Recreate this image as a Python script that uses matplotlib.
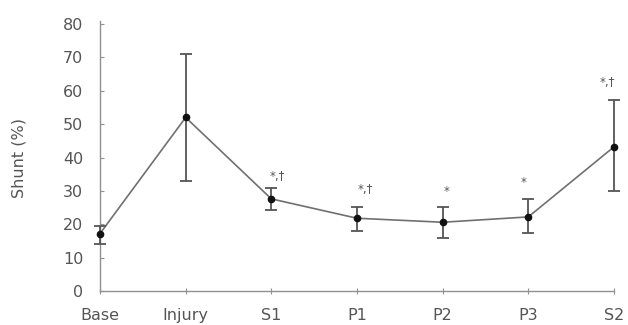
import matplotlib.pyplot as plt
import numpy as np

# Datos
etapas = ['Base', 'Injury', 'S1', 'P1', 'P2', 'P3', 'S2']
shunt = [17.2, 52.0, 27.6, 21.8, 20.6, 22.2, 43.2]
err_sup = [2.4, 19.0, 3.2, 3.4, 4.5, 5.3, 14.0]
err_inf = [3.0, 19.0, 3.3, 3.8, 4.8, 4.9, 13.2]
marcas = ['', '', '*,\u2020', '*,\u2020', '*', '*', '*,\u2020']
marcas_y = [0, 0, 32.5, 28.5, 28.0, 30.5, 60.5]
marcas_dx = [0, 0, 0.07, 0.1, 0.05, -0.05, -0.08]

plt.rcParams['font.family'] = ['DejaVu Sans']
texto = '#555555'

fig = plt.figure(figsize=(6.28, 3.25), dpi=100)
ax = fig.add_axes([100 / 628, 1 - 291 / 325, 514 / 628, 267 / 325])

x = np.arange(len(etapas))
ax.plot(x, shunt, color='#707070', lw=1.2, zorder=2)
ax.errorbar(x, shunt, yerr=[err_inf, err_sup], fmt='o', color='#111111',
            ms=4.5, ecolor='#555555', elinewidth=1.3, capsize=4, capthick=1.3,
            zorder=3)

for xi, m, my, dx in zip(x, marcas, marcas_y, marcas_dx):
    if m:
        ax.text(xi + dx, my, m, ha='center', va='bottom', fontsize=8.5,
                color=texto)

ax.set_xlim(0, 6)
ax.set_ylim(0, 80)
ax.set_yticks(range(0, 81, 10))
ax.set_xticks(x)
ax.set_xticklabels(etapas)
ax.set_ylabel('Shunt (%)', fontsize=11.5, color=texto, labelpad=26)

for s in ['top', 'right']:
    ax.spines[s].set_visible(False)
for s in ['left', 'bottom']:
    ax.spines[s].set_color('#909090')
    ax.spines[s].set_linewidth(1.0)
ax.spines['left'].set_bounds(0, 81)

ax.tick_params(axis='y', direction='in', length=3, color='#909090',
               labelsize=11.5, labelcolor=texto, pad=12)
ax.tick_params(axis='x', direction='inout', length=5, color='#909090',
               labelsize=11.5, labelcolor=texto, pad=10)
for c in ax.get_children():
    c.set_clip_on(False)

plt.savefig('out.png', dpi=100)
